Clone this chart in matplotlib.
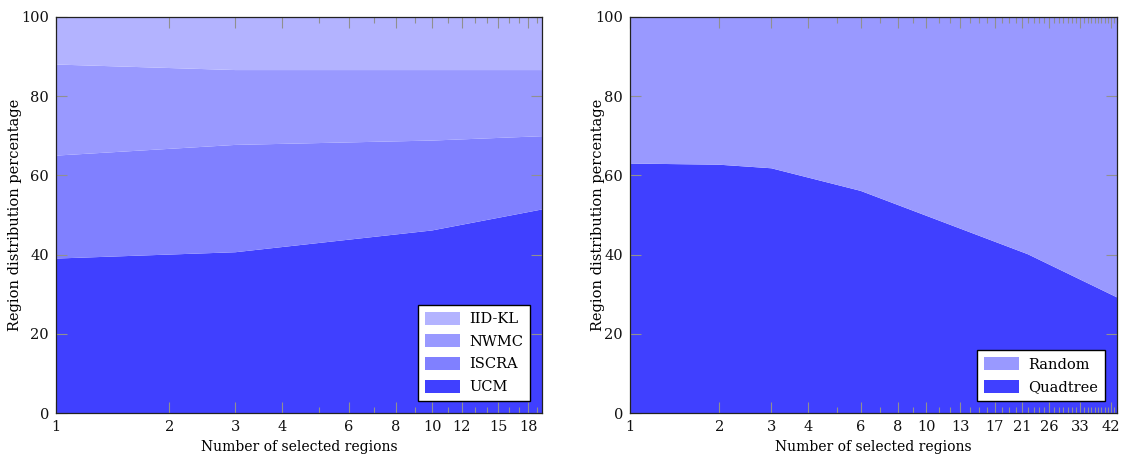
import matplotlib
matplotlib.use("Agg")
import matplotlib.pyplot as plt
from matplotlib.ticker import FixedLocator, NullFormatter, FixedFormatter
from matplotlib.patches import Patch

# ---- data: left panel ----
left_x = [1, 3, 10, 19.6]
ucm = [39.0, 40.6, 46.1, 51.4]
iscra = [26.0, 27.1, 22.7, 18.5]
nwmc = [23.0, 18.9, 17.8, 16.7]
iidkl = [12.0, 13.4, 13.4, 13.4]
left_names = ["UCM", "ISCRA", "NWMC", "IID-KL"]
left_ticks = [1, 2, 3, 4, 6, 8, 10, 12, 15, 18]

# ---- data: right panel ----
right_x = [1, 2, 3, 6, 22, 44]
quadtree = [63.0, 62.7, 61.8, 56.1, 40.1, 29.2]
random_ = [37.0, 37.3, 38.2, 43.9, 59.9, 70.8]
right_names = ["Quadtree", "Random"]
right_ticks = [1, 2, 3, 4, 6, 8, 10, 13, 17, 21, 26, 33, 42]

y_ticks = [0, 20, 40, 60, 80, 100]
left_colors = ["#4040FF", "#8080FF", "#9999FF", "#B3B3FF"]
right_colors = ["#4040FF", "#9999FF"]

plt.rcParams['font.family'] = ['DejaVu Serif']
plt.rcParams['font.size'] = 10

fig = plt.figure(figsize=(11.21, 4.61), dpi=100)
W, H = 1121, 461
ax1 = fig.add_axes([56 / W, 1 - 413 / H, (542 - 56) / W, (413 - 17) / H])
ax2 = fig.add_axes([630 / W, 1 - 413 / H, (1117 - 630) / W, (413 - 17) / H])


def style(ax, xmax, ticks, ylab_x):
    ax.set_xscale('log')
    ax.set_xlim(1, xmax)
    ax.set_ylim(0, 100)
    ax.xaxis.set_major_locator(FixedLocator(ticks))
    ax.xaxis.set_major_formatter(FixedFormatter([str(t) for t in ticks]))
    minors = [v for v in range(1, int(xmax) + 1) if v not in ticks]
    ax.xaxis.set_minor_locator(FixedLocator(minors))
    ax.xaxis.set_minor_formatter(NullFormatter())
    ax.set_yticks(y_ticks)
    ax.tick_params(axis='both', which='major', direction='in', length=8,
                   width=0.8, color='#909090', top=True, right=True,
                   labelsize=10.5, pad=5, labelcolor='#111111')
    ax.tick_params(axis='x', which='minor', direction='in', length=4,
                   width=0.8, color='#909090', top=True, bottom=True)
    ax.tick_params(axis='y', which='minor', left=False, right=False)
    for s in ax.spines.values():
        s.set_color('#222222')
        s.set_linewidth(0.9)
        s.set_zorder(5)
    ax.set_xlabel("Number of selected regions", fontsize=10, labelpad=4)
    ax.set_ylabel("Region distribution percentage", fontsize=10.5)
    ax.yaxis.set_label_coords(ylab_x, 0.5)


legend_kw = dict(loc='lower right', fancybox=False, edgecolor='black',
                 framealpha=1, fontsize=10.5, handlelength=2.4,
                 handleheight=1.0, borderaxespad=0.8, labelspacing=0.55,
                 handletextpad=0.6, borderpad=0.5)

ax1.stackplot(left_x, ucm, iscra, nwmc, iidkl, colors=left_colors,
              linewidth=0, edgecolor='none')
style(ax1, 19.6, left_ticks, -0.070)
h1 = [Patch(facecolor=c, edgecolor='none') for c in left_colors][::-1]
ax1.legend(h1, left_names[::-1], **legend_kw)

ax2.stackplot(right_x, quadtree, random_, colors=right_colors,
              linewidth=0, edgecolor='none')
style(ax2, 44, right_ticks, -0.052)
h2 = [Patch(facecolor=c, edgecolor='none') for c in right_colors][::-1]
ax2.legend(h2, right_names[::-1], **legend_kw)

fig.savefig("out.png", dpi=100)
